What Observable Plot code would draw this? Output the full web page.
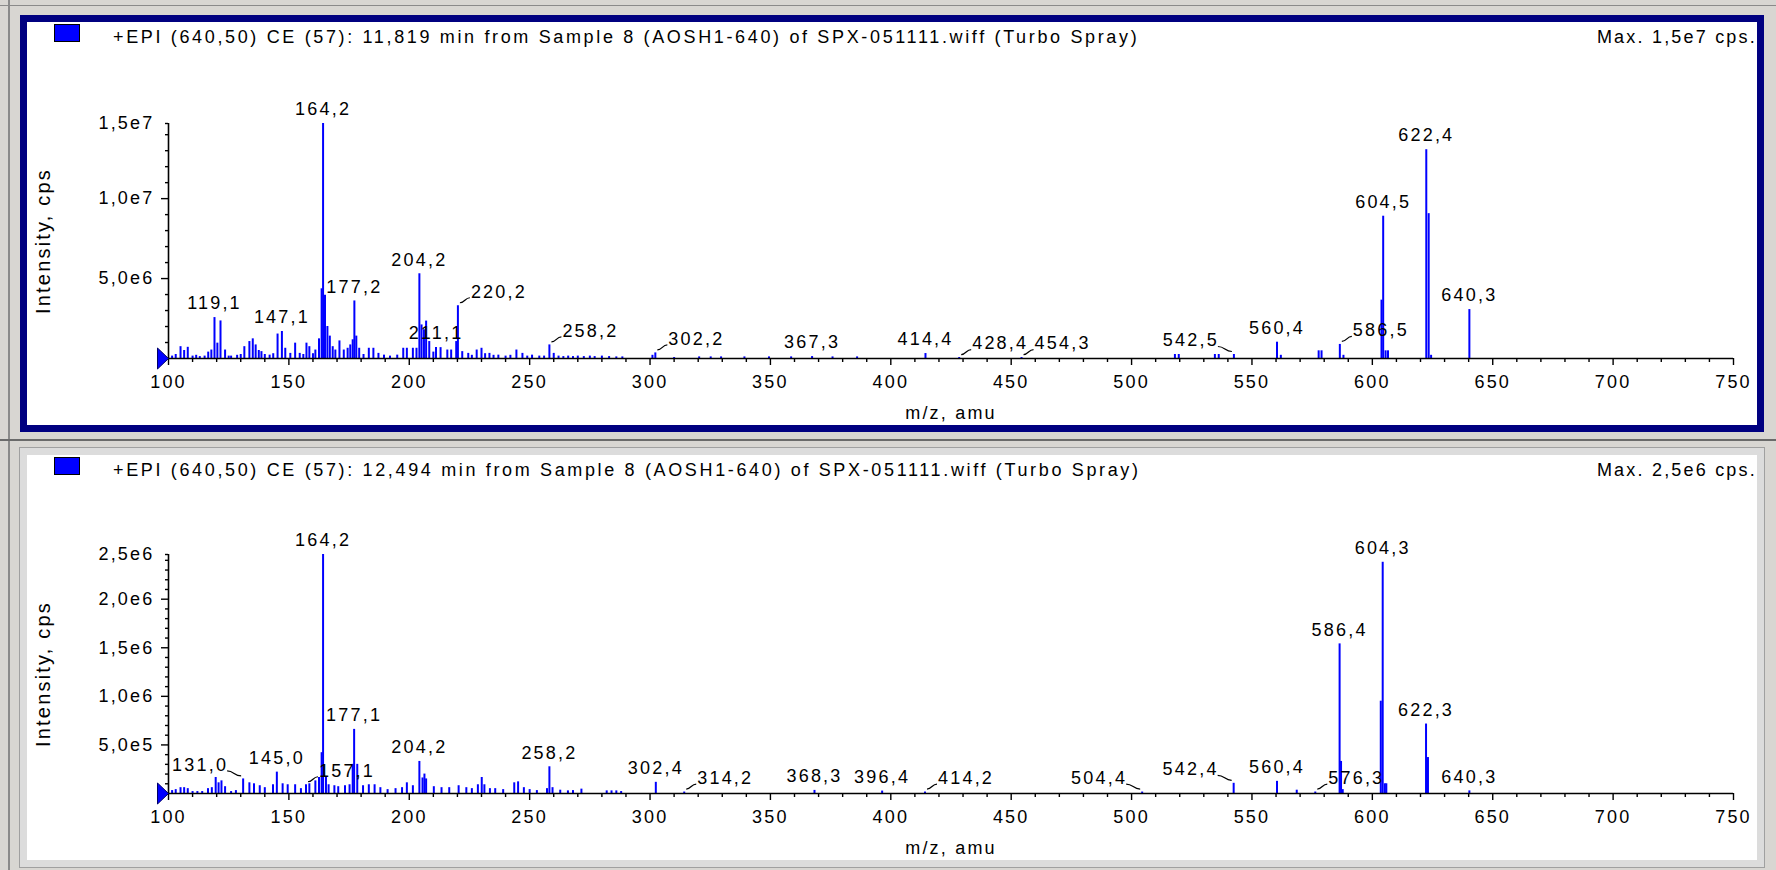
<!DOCTYPE html>
<html><head><meta charset="utf-8">
<script src="https://cdn.jsdelivr.net/npm/d3@7"></script>
<script src="https://cdn.jsdelivr.net/npm/@observablehq/plot@0.6"></script>
<style>
body{margin:0;width:1776px;height:870px;background:#d8d6d2;position:relative;overflow:hidden;font-family:"Liberation Sans",Arial,sans-serif;color:#000;}
.vline{position:absolute;left:8px;top:0;width:2px;height:870px;background:#8a8a8a;}
.hline{position:absolute;left:0;top:439px;width:1776px;height:2px;background:#6a6a6a;}
.tline{position:absolute;left:0;top:5px;width:1776px;height:1px;background:#8a8a8a;}
.panel{position:absolute;left:20px;width:1730px;background:#fff;}
#p1{top:15px;height:403px;border:7px solid #000080;}
#p2{top:448px;height:405px;border:7px solid #dcdcdc;box-shadow:0 0 0 1px #a0a0a0;}
.hdr{position:absolute;left:0;top:0;width:1730px;height:33px;font-size:18px;letter-spacing:2.2px;line-height:20px;white-space:nowrap;}
.sq{position:absolute;left:27px;top:2px;width:26px;height:18px;box-sizing:border-box;background:#0000ff;border:1px solid #000;}
.ttl{position:absolute;left:86px;top:5px;letter-spacing:2.65px;}
.max{position:absolute;right:0px;top:5px;}
.chart{position:absolute;left:0;top:33px;}
</style></head>
<body>
<div class="tline"></div><div class="vline"></div><div class="hline"></div>
<div class="panel" id="p1"><div class="hdr"><div class="sq"></div><div class="ttl" id="t1"></div><div class="max" id="m1"></div></div><div class="chart" id="c1"></div></div>
<div class="panel" id="p2"><div class="hdr"><div class="sq"></div><div class="ttl" id="t2"></div><div class="max" id="m2"></div></div><div class="chart" id="c2"></div></div>
<script>
// ---------- data ----------
const topTitle = "+EPI (640,50) CE (57): 11,819 min from Sample 8 (AOSH1-640) of SPX-051111.wiff (Turbo Spray)";
const botTitle = "+EPI (640,50) CE (57): 12,494 min from Sample 8 (AOSH1-640) of SPX-051111.wiff (Turbo Spray)";
const xLabel = "m/z, amu";
const yLabel = "Intensity, cps";
const xDomain = [100, 750];
const xMajorTicks = [100,150,200,250,300,350,400,450,500,550,600,650,700,750];
const topMax = 1.47e7;
const botMax = 2.46e6;
const topYMajor = [5e6, 1e7];
const botYMajor = [5e5, 1e6, 1.5e6, 2e6];

// [m/z, intensity (cps)]
const topPeaks = [
 [101.5,1.5e5],[103,2.5e5],[105,7.4e5],[106.5,5.0e5],[108,7.0e5],[110,1.5e5],[111.5,2.0e5],[113,1.2e5],[115,1.5e5],
 [116.5,4.0e5],[117.8,5.3e5],[119.1,2.56e6],[120.3,9.6e5],[121.6,2.35e6],[123.5,5.3e5],[125,1.5e5],[126,1.5e5],
 [128.5,2.0e5],[130,2.5e5],[131.5,7.4e5],[133.6,1.06e6],[135,1.23e6],[136.2,8.5e5],[137.5,5e5],[138.6,4.3e5],
 [140,2.5e5],[142,2.1e5],[143.5,3e5],[145.3,1.53e6],[147.1,1.69e6],[148.5,6.4e5],[150.6,3.2e5],[152.6,9.6e5],
 [154.5,3.2e5],[156,2.5e5],[157.3,9.6e5],[158.5,7.4e5],[160,3e5],[161,5.3e5],[162.5,1.23e6],[163.6,4.36e6],
 [164.2,1.47e7],[165,3.95e6],[166,2.0e6],[167,1.4e6],[168.2,7.4e5],[169.3,5.3e5],[171,1.1e6],[172.8,5.3e5],
 [174.4,6.4e5],[175.5,8.5e5],[176.5,1.17e6],[177.2,3.6e6],[178,1.4e6],[179.2,6.4e5],[181,2.5e5],[183.2,6.4e5],
 [185.1,6.4e5],[187.2,3.2e5],[189.5,2.1e5],[192,1.5e5],[195,2.1e5],[197.5,6.4e5],[199,6.4e5],[201.5,6.4e5],
 [203,6.4e5],[204.2,5.3e6],[205.1,2.1e6],[206.1,1.8e6],[207,2.34e6],[208.3,1.06e6],[210,4e5],[211.1,6.9e5],
 [213,6.8e5],[215.8,5.3e5],[217.4,5.3e5],[219.5,1.06e6],[220.2,3.3e6],[222,4.3e5],[224.5,3.2e5],[226,2e5],
 [228,5.3e5],[230,6.4e5],[231.5,3e5],[233.3,3.2e5],[235,2e5],[237,2.1e5],[240,1.5e5],[242,2e5],[244.5,5.3e5],
 [247,3.2e5],[249,1.5e5],[251,2.1e5],[254,1.5e5],[256,1.5e5],[258.2,8.5e5],[260,3.2e5],[262,1.5e5],[264,1.2e5],
 [266,1.5e5],[268,1.2e5],[270,1.5e5],[272.5,1.2e5],[275,1.5e5],[277,1.2e5],[280,1.5e5],[283,1.2e5],[286,1e5],
 [288.5,1e5],[301,2e5],[302.2,3.5e5],[310,6e4],[320.4,1e5],[325.2,1e5],[329.5,1e5],[339.2,1e5],[349.4,1e5],
 [358.6,1e5],[367.3,1.2e5],[375.8,1e5],[386,1e5],[414.4,3.1e5],[428.4,6e4],[454.3,6e4],[518,2.5e5],[519.6,2.5e5],
 [534.6,2.5e5],[536.2,2.5e5],[542.5,2.5e5],[560.4,1.02e6],[562,2e5],[577.7,4.8e5],[578.9,4.8e5],[586.5,8.8e5],
 [588,2e5],[603.8,3.65e6],[604.5,8.9e6],[605.5,4.8e5],[606.5,4.8e5],[622.4,1.306e7],[623.4,9.06e6],[624.4,2e5],
 [640.3,3.06e6]
];
const botPeaks = [
 [101.5,3e4],[103,4e4],[105,6e4],[106.5,6e4],[108,5e4],[110,2e4],[112,2e4],[114,2e4],[116.4,5e4],[118,6e4],
 [119.6,1.65e5],[120.8,1.1e5],[122,1.3e5],[123.5,7e4],[126,2e4],[128,3e4],[131,1.5e5],[133.6,1.1e5],[135.5,1e5],
 [137.9,8e4],[140,6e4],[143.4,9e4],[145,2.2e5],[147.4,1e5],[149.5,9e4],[152.6,9e4],[155,5e4],[157.1,9e4],
 [158.5,1e5],[161,1.3e5],[162.5,1.65e5],[163.6,4.2e5],[164.2,2.46e6],[165.4,1.65e5],[166.5,9e4],[168.9,8e4],
 [170.5,7e4],[173.3,8e4],[175.2,9e4],[176.5,3e5],[177.1,6.6e5],[178.4,3e5],[180.8,8e4],[183.2,9e4],[185.6,9e4],
 [188,6e4],[191,4e4],[194.3,5e4],[197,6e4],[199,1.1e5],[201.5,8e4],[204.2,3.3e5],[205.5,1.6e5],[206.3,2e5],
 [207,1.5e5],[210.2,7e4],[213.4,6e4],[216.6,6e4],[220.5,8e4],[223.7,6e4],[226,5e4],[228.5,9e4],[230.1,1.65e5],
 [231.2,9e4],[233.5,5e4],[235.7,5e4],[239,4e4],[243.6,1.1e5],[245.2,1.2e5],[247.6,6e4],[250,4e4],[253,3e4],
 [257.2,5e4],[258.2,2.75e5],[259.5,6e4],[262.7,3.4e4],[265.9,2.7e4],[268,3e4],[271.5,4.5e4],[282,2.7e4],
 [284,2.7e4],[286,2.7e4],[288,2e4],[302.4,1.15e5],[314.2,1.5e4],[368.3,3.2e4],[396.4,2.5e4],[414.2,1.5e4],
 [504.4,1.5e4],[542.4,1.05e5],[560.4,1.25e5],[568.6,3.4e4],[576.3,1.5e4],[586.4,1.54e6],[587,3.3e5],[587.7,4e4],
 [603.5,9.5e5],[604.3,2.38e6],[605.2,1e5],[605.8,1e5],[622.3,7.15e5],[623.1,3.7e5],[640.3,2.7e4]
];
// annotated peaks: [m/z, side of the label: c = centred, r = right with leader, l = left with leader]
const topLabels = [[119.1,"c"],[147.1,"c"],[164.2,"c"],[177.2,"c"],[204.2,"c"],[211.1,"c"],[220.2,"r"],[258.2,"r"],
 [302.2,"r"],[367.3,"c"],[414.4,"c"],[428.4,"r"],[454.3,"r"],[542.5,"l"],[560.4,"c"],[586.5,"r"],[604.5,"c"],[622.4,"c"],[640.3,"c"]];
const botLabels = [[131.0,"l"],[145.0,"c"],[157.1,"r"],[164.2,"c"],[177.1,"c"],[204.2,"c"],[258.2,"c"],[302.4,"c"],
 [314.2,"r"],[368.3,"c"],[396.4,"c"],[414.2,"r"],[504.4,"l"],[542.4,"l"],[560.4,"c"],[576.3,"r"],[586.4,"c"],[604.3,"c"],[622.3,"c"],[640.3,"c"]];

// ---------- drawing ----------
const sci = v => v.toExponential(1).replace(".", ",").replace("e+", "e");
const tri = {draw(ctx) { ctx.moveTo(0, 0); ctx.lineTo(-11, -10.5); ctx.lineTo(-11, 10.5); ctx.closePath(); }};

function spectrum({peaks, labels, ymax, yMajor, yMinorStep, height, marginTop}) {
  const width = 1730, marginLeft = 141, marginRight = 24, marginBottom = 67;
  const kx = (width - marginLeft - marginRight) / (xDomain[1] - xDomain[0]);
  const ky = (height - marginTop - marginBottom) / ymax;
  const data = peaks.map(([mz, v]) => ({mz, v}));
  const lookup = new Map(data.map(d => [d.mz, d.v]));
  const lab = labels.map(([mz, side]) => ({mz, side, v: lookup.get(mz) ?? 0, text: mz.toFixed(1).replace(".", ",")}));
  const leaders = lab.filter(d => d.side !== "c").map(d => {
    const s = d.side === "r" ? 1 : -1;
    return {x1: d.mz + s * 2 / kx, y1: d.v + 3 / ky, x2: d.mz + s * (s > 0 ? 12 : 16) / kx, y2: d.v + 8 / ky};
  });
  const xMinor = d3.range(xDomain[0], xDomain[1] + 1, 10).filter(t => t % 50 !== 0);
  const yMinor = d3.range(yMinorStep, ymax, yMinorStep).filter(t => !yMajor.some(m => Math.abs(m - t) < 1));
  return Plot.plot({
    width, height, marginLeft, marginRight, marginTop, marginBottom,
    x: {domain: xDomain}, y: {domain: [0, ymax]},
    style: {fontFamily: '"Liberation Sans", Arial, sans-serif', fontSize: "18px", letterSpacing: "2.2px", color: "#000", background: "transparent", overflow: "visible"},
    marks: [
      Plot.ruleX(data, {x: "mz", y1: 0, y2: "v", stroke: "#0000ff", strokeWidth: 2}),
      Plot.ruleY([0], {stroke: "#000", strokeWidth: 1.6}),
      Plot.ruleX([xDomain[0]], {stroke: "#000", strokeWidth: 1.6}),
      Plot.axisX({ticks: xMajorTicks, tickSize: 7, tickPadding: 10, tickFormat: d => String(d), label: null, strokeWidth: 1.4}),
      Plot.axisX({ticks: xMinor, tickSize: 4, tickFormat: () => "", label: null, strokeWidth: 1.4}),
      Plot.axisY({ticks: yMajor, tickSize: 7, tickPadding: 7, tickFormat: sci, label: null, strokeWidth: 1.4}),
      Plot.axisY({ticks: yMinor, tickSize: 3, tickFormat: () => "", label: null, strokeWidth: 1.4}),
      Plot.axisY({ticks: [ymax], tickSize: 3, tickPadding: 11, tickFormat: sci, label: null, strokeWidth: 1.4}),
      Plot.link(leaders, {x1: "x1", y1: "y1", x2: "x2", y2: "y2", curve: "bump-x", stroke: "#000", strokeWidth: 1.2}),
      Plot.text(lab.filter(d => d.side === "c"), {x: "mz", y: "v", text: "text", dy: -14, textAnchor: "middle", lineAnchor: "middle"}),
      Plot.text(lab.filter(d => d.side === "r"), {x: "mz", y: "v", text: "text", dx: 13, dy: -14, textAnchor: "start", lineAnchor: "middle"}),
      Plot.text(lab.filter(d => d.side === "l"), {x: "mz", y: "v", text: "text", dx: -15, dy: -14, textAnchor: "end", lineAnchor: "middle"}),
      Plot.text([xLabel], {frameAnchor: "bottom", dy: 55, textAnchor: "middle", lineAnchor: "middle"}),
      Plot.text([yLabel], {frameAnchor: "left", dx: -125, rotate: -90, fontSize: 20, textAnchor: "middle", lineAnchor: "middle"}),
      Plot.dot([{x: xDomain[0], y: 0}], {x: "x", y: "y", symbol: tri, fill: "#0000ff", stroke: "#000066", strokeWidth: 1})
    ]
  });
}

document.getElementById("t1").textContent = topTitle;
document.getElementById("t2").textContent = botTitle;
document.getElementById("m1").textContent = "Max. " + sci(topMax) + " cps.";
document.getElementById("m2").textContent = "Max. " + sci(botMax) + " cps.";
document.getElementById("c1").append(spectrum({peaks: topPeaks, labels: topLabels, ymax: topMax, yMajor: topYMajor, yMinorStep: 1e6, height: 370, marginTop: 68}));
document.getElementById("c2").append(spectrum({peaks: botPeaks, labels: botLabels, ymax: botMax, yMajor: botYMajor, yMinorStep: 1e5, height: 372, marginTop: 66}));
</script>
</body></html>
